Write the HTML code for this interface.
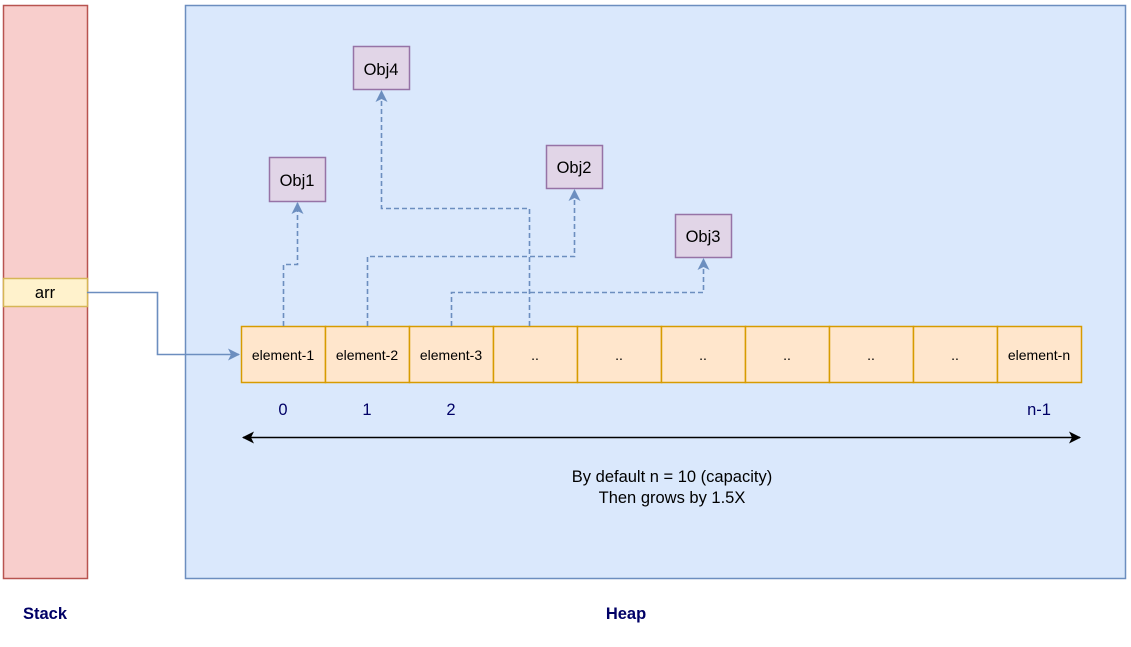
<!DOCTYPE html>
<html><head><meta charset="utf-8"><style>
html,body{margin:0;padding:0;background:#fff;}
svg{display:block;font-family:"Liberation Sans",Arial,sans-serif;}
</style></head><body>
<svg width="1131" height="647" viewBox="0 0 1131 647" xmlns="http://www.w3.org/2000/svg">
<defs>
<marker id="ab" markerWidth="12" markerHeight="12" refX="11" refY="6" orient="auto" markerUnits="userSpaceOnUse">
<path d="M0,0 L12,6 L0,12 L3,6 Z" fill="#6c8ebf"/></marker>
<marker id="ak" markerWidth="12" markerHeight="12" refX="11" refY="6" orient="auto-start-reverse" markerUnits="userSpaceOnUse">
<path d="M0,0 L12,6 L0,12 L3,6 Z" fill="#000"/></marker>
</defs>
<g stroke-width="1.5">
<rect x="3.5" y="5.5" width="84" height="573" fill="#f8cecc" stroke="#b85450"/>
<rect x="185.5" y="5.5" width="940" height="573" fill="#dae8fc" stroke="#6c8ebf"/>
<rect x="3.5" y="278.5" width="84" height="28" fill="#fff2cc" stroke="#d6b656"/>
</g>
<text x="45" y="298" font-size="16.5" text-anchor="middle">arr</text>
<g fill="#ffe6cc" stroke="#d79b00" stroke-width="1.5">
<rect x="241.5" y="326.5" width="84" height="56"/><rect x="325.5" y="326.5" width="84" height="56"/>
<rect x="409.5" y="326.5" width="84" height="56"/><rect x="493.5" y="326.5" width="84" height="56"/>
<rect x="577.5" y="326.5" width="84" height="56"/><rect x="661.5" y="326.5" width="84" height="56"/>
<rect x="745.5" y="326.5" width="84" height="56"/><rect x="829.5" y="326.5" width="84" height="56"/>
<rect x="913.5" y="326.5" width="84" height="56"/><rect x="997.5" y="326.5" width="84" height="56"/>
</g>
<g font-size="14" text-anchor="middle">
<text x="283" y="360">element-1</text><text x="367" y="360">element-2</text><text x="451" y="360">element-3</text>
<text x="535" y="360">..</text><text x="619" y="360">..</text><text x="703" y="360">..</text><text x="787" y="360">..</text>
<text x="871" y="360">..</text><text x="955" y="360">..</text><text x="1039" y="360">element-n</text>
</g>
<g fill="#e1d5e7" stroke="#9673a6" stroke-width="1.5">
<rect x="269.5" y="157.5" width="56" height="44"/><rect x="353.5" y="46.5" width="56" height="43"/>
<rect x="546.5" y="145.5" width="56" height="43"/><rect x="675.5" y="214.5" width="56" height="43"/>
</g>
<g font-size="16.5" text-anchor="middle">
<text x="297" y="186">Obj1</text><text x="381" y="75">Obj4</text><text x="574" y="173">Obj2</text><text x="703" y="242">Obj3</text>
</g>
<path d="M87,292.5 H157.5 V354.5 H239" fill="none" stroke="#6c8ebf" stroke-width="1.6" marker-end="url(#ab)"/>
<g fill="none" stroke="#6c8ebf" stroke-width="1.6" stroke-dasharray="5,3">
<path d="M283.5,326 V264.5 H297.5 V203" marker-end="url(#ab)"/>
<path d="M367.5,326 V256.5 H574.5 V190" marker-end="url(#ab)"/>
<path d="M451.5,326 V292.5 H703.5 V259" marker-end="url(#ab)"/>
<path d="M529.5,326 V208.5 H381.5 V91" marker-end="url(#ab)"/>
</g>
<g font-size="16.5" fill="#000066" text-anchor="middle">
<text x="283" y="415">0</text><text x="367" y="415">1</text><text x="451" y="415">2</text><text x="1039" y="415">n-1</text>
</g>
<line x1="243" y1="437.5" x2="1080" y2="437.5" stroke="#000" stroke-width="1.6" marker-start="url(#ak)" marker-end="url(#ak)"/>
<g font-size="16.5" text-anchor="middle">
<text x="672" y="482">By default n = 10 (capacity)</text>
<text x="672" y="503">Then grows by 1.5X</text>
</g>
<g font-size="16.5" font-weight="bold" fill="#000066" text-anchor="middle">
<text x="45" y="619">Stack</text><text x="626" y="619">Heap</text>
</g>
</svg>
</body></html>
